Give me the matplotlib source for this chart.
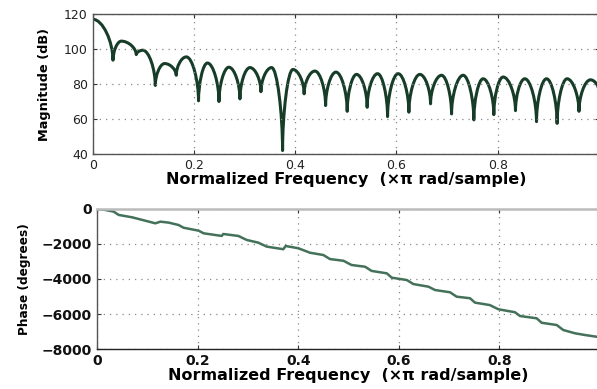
import matplotlib
matplotlib.use("Agg")
import matplotlib.pyplot as plt
from matplotlib.path import Path
from matplotlib.patches import PathPatch

plt.rcParams['font.family'] = ['DejaVu Sans']

# magnitude response: alternating peak / null points (normalized freq, dB)
mag_freq = [0.0, 0.040, 0.0565, 0.086, 0.099, 0.1236, 0.142, 0.165, 0.185, 0.209,
            0.2266, 0.2494, 0.269, 0.2908, 0.3106, 0.3323, 0.3534, 0.375, 0.3955,
            0.4176, 0.4389, 0.460, 0.4804, 0.5027, 0.5212, 0.5421, 0.5627, 0.5824,
            0.6034, 0.6245, 0.6462, 0.6673, 0.689, 0.7088, 0.7317, 0.7528, 0.7712,
            0.7923, 0.8107, 0.8351, 0.8535, 0.8766, 0.8964, 0.9173, 0.937, 0.9605,
            0.9832, 1.0]
mag_db = [117, 93.6, 104.5, 96.8, 99.3, 79.2, 91.7, 85, 95.5, 70.4,
          92, 70, 89.6, 71.5, 89.4, 75.6, 89.4, 42, 88.3,
          74.4, 87.4, 67.7, 86.8, 64.4, 85.5, 66.7, 85.9, 61.4,
          85.9, 63.9, 85.5, 68.7, 85, 62.9, 85, 59.5, 83,
          62.5, 84, 64.8, 83, 58.5, 83, 57.5, 83, 64.4,
          82.4, 76]

# unwrapped phase (normalized freq, degrees)
ph_freq = [0.0, 0.0165, 0.033, 0.043, 0.0696, 0.096, 0.116, 0.126, 0.1425, 0.162,
           0.172, 0.202, 0.212, 0.2346, 0.248, 0.251, 0.281, 0.2976, 0.3207, 0.3374,
           0.3704, 0.375, 0.4003, 0.4235, 0.45, 0.463, 0.49, 0.506, 0.533, 0.546,
           0.576, 0.586, 0.616, 0.629, 0.659, 0.672, 0.702, 0.715, 0.7416, 0.7515,
           0.781, 0.798, 0.831, 0.841, 0.874, 0.884, 0.914, 0.927, 0.950, 0.970,
           0.9935, 1.0]
ph_deg = [0, -57, -150, -340, -475, -670, -820, -725, -780, -914,
          -1070, -1240, -1390, -1485, -1540, -1430, -1540, -1770, -1925, -2150,
          -2300, -2115, -2245, -2500, -2630, -2860, -2960, -3200, -3300, -3540,
          -3675, -3925, -4060, -4290, -4440, -4630, -4760, -5010, -5100, -5350,
          -5490, -5730, -5900, -6115, -6245, -6500, -6630, -6915, -7100, -7200,
          -7300, -7320]

xticks = [0, 0.2, 0.4, 0.6, 0.8]
xtick_labels = ['0', '0.2', '0.4', '0.6', '0.8']
mag_ticks = [40, 60, 80, 100, 120]
ph_ticks = [-8000, -6000, -4000, -2000, 0]

xlabel = 'Normalized Frequency  (\u00d7\u03c0 rad/sample)'

fig = plt.figure(figsize=(5.97, 3.89), dpi=100)
ax1 = fig.add_axes([0.1553, 0.604, 0.848, 0.360])
ax2 = fig.add_axes([0.1625, 0.1028, 0.8425, 0.360])

# lobes drawn as bezier arcs: vertical tangent at nulls, flat at peaks
a, b = 0.45, 0.5
verts = [(mag_freq[0], mag_db[0])]
codes = [Path.MOVETO]
for i in range(1, len(mag_freq)):
    x0, y0 = mag_freq[i - 1], mag_db[i - 1]
    x1, y1 = mag_freq[i], mag_db[i]
    if i % 2 == 1:  # peak -> null
        c1 = (x0 + b * (x1 - x0), y0)
        c2 = (x1, y1 + a * (y0 - y1))
    else:  # null -> peak
        c1 = (x0, y0 + a * (y1 - y0))
        c2 = (x1 - b * (x1 - x0), y1)
    verts += [c1, c2, (x1, y1)]
    codes += [Path.CURVE4] * 3
ax1.add_patch(PathPatch(Path(verts, codes), fill=False, edgecolor='#173d29',
                        lw=2.2, capstyle='round', joinstyle='round'))

ax2.plot(ph_freq, ph_deg, color='#44715a', lw=1.8)

for ax in (ax1, ax2):
    ax.set_xlim(0, 1)
    ax.set_xticks(xticks)
    ax.grid(True, linestyle=(0, (1, 4)), color='#888888', lw=0.9)
    ax.tick_params(direction='in', length=3, top=True, right=True, colors='#333333')
    for s in ax.spines.values():
        s.set_color('#555555')
        s.set_linewidth(1.0)

ax1.set_ylim(40, 120)
ax1.set_yticks(mag_ticks)
ax1.set_xticklabels(xtick_labels, fontsize=9, color='#222222')
ax1.set_yticklabels([str(v) for v in mag_ticks], fontsize=9, color='#222222')
ax1.set_xlabel(xlabel, fontsize=11.5, fontweight='bold', labelpad=0)
ax1.set_ylabel('Magnitude (dB)', fontsize=9.3, fontweight='bold', labelpad=9)

ax2.set_ylim(-8000, 0)
ax2.set_yticks(ph_ticks)
ax2.set_xticklabels(xtick_labels, fontsize=10, fontweight='bold', color='#111111')
ax2.set_yticklabels(['\u22128000', '\u22126000', '\u22124000', '\u22122000', '0'],
                    fontsize=10, fontweight='bold', color='#111111')
ax2.set_xlabel(xlabel, fontsize=11.5, fontweight='bold', labelpad=0)
ax2.set_ylabel('Phase (degrees)', fontsize=8.7, fontweight='bold', labelpad=8)
ax2.spines['top'].set_color('#bbbbbb')
ax2.spines['top'].set_linewidth(1.8)
ax2.spines['bottom'].set_color('#222222')

fig.savefig('out.png', dpi=100)
